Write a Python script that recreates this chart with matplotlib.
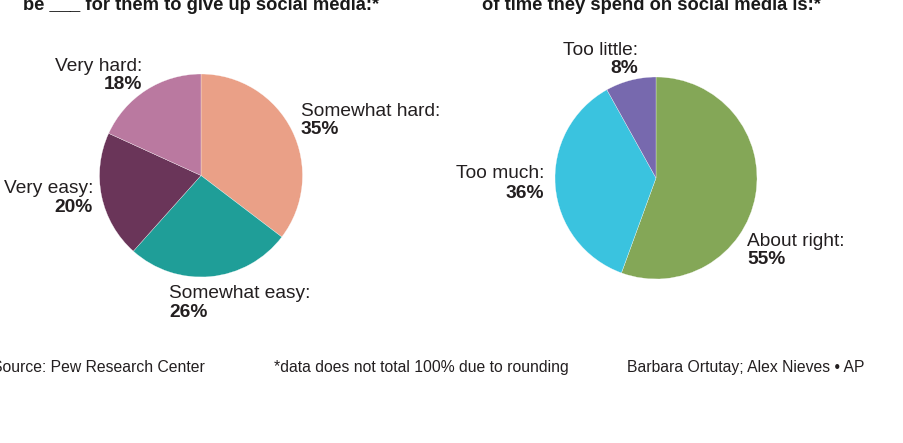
import matplotlib
matplotlib.use("Agg")
import matplotlib.pyplot as plt

plt.rcParams['font.family'] = ['Liberation Sans', 'DejaVu Sans']

W, H = 904, 443

# left pie: how hard to give up social media
hard_labels = ["Somewhat hard:", "Somewhat easy:", "Very easy:", "Very hard:"]
hard_values = [35, 26, 20, 18]
hard_colors = ["#EAA087", "#1F9E98", "#6A3559", "#BA79A0"]

# right pie: amount of time spent on social media
time_labels = ["About right:", "Too much:", "Too little:"]
time_values = [55, 36, 8]
time_colors = ["#84A757", "#3AC3DF", "#7769AE"]

titles = ["be ___ for them to give up social media:*",
          "of time they spend on social media is:*"]
footer = ["Source: Pew Research Center",
          "*data does not total 100% due to rounding",
          "Barbara Ortutay; Alex Nieves \u2022 AP"]

TXT = "#231f20"

fig = plt.figure(figsize=(W / 100, H / 100), dpi=100)
ax = fig.add_axes([0, 0, 1, 1])
ax.axis("off")


def Y(py):
    return H - py


ax.pie(hard_values, colors=hard_colors, startangle=90, counterclock=False,
       center=(201, Y(175.5)), radius=101.5,
       wedgeprops=dict(edgecolor="white", linewidth=0.2))
ax.pie(time_values, colors=time_colors, startangle=90, counterclock=False,
       center=(656, Y(178)), radius=101,
       wedgeprops=dict(edgecolor="white", linewidth=0.2))
ax.set_xlim(0, W)
ax.set_ylim(0, H)
ax.set_aspect("equal")

# label anchors: (x, baseline1, baseline2, ha)
hard_pos = [(301, 116, 134, "left"), (169, 298, 317, "left"),
            (93, 193, 212.5, "right"), (142, 71, 89, "right")]
time_pos = [(747, 246, 264, "left"), (544, 178, 198, "right"),
            (638, 55, 73, "right")]

for labels, values, pos in [(hard_labels, hard_values, hard_pos),
                            (time_labels, time_values, time_pos)]:
    for lab, v, (x, b1, b2, ha) in zip(labels, values, pos):
        ax.text(x, Y(b1), lab, ha=ha, va="baseline", fontsize=13.8, color=TXT)
        ax.text(x, Y(b2), f"{v}%", ha=ha, va="baseline", fontsize=13.8,
                fontweight="bold", color=TXT)

# question titles, cut off at the top edge as in the source graphic
ax.text(23, Y(9.5), titles[0], ha="left", va="baseline", fontsize=13.2,
        fontweight="bold", color="#1a1a1a")
ax.text(482, Y(9.5), titles[1], ha="left", va="baseline", fontsize=13.2,
        fontweight="bold", color="#1a1a1a")

ax.text(205, Y(372), footer[0], ha="right", va="baseline", fontsize=11.3, color=TXT)
ax.text(421, Y(372), footer[1], ha="center", va="baseline", fontsize=11.3, color=TXT)
ax.text(865, Y(372), footer[2], ha="right", va="baseline", fontsize=11.3, color=TXT)

fig.savefig("out.png", dpi=100, facecolor="white")
